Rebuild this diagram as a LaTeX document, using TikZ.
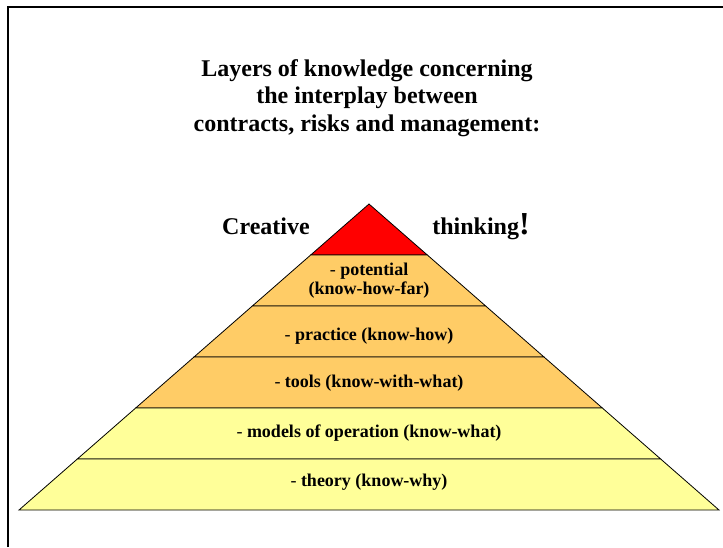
\documentclass[tikz,border=0pt]{standalone}
\usepackage{fontspec}
\setmainfont{Liberation Serif}
\usetikzlibrary{calc}
\definecolor{tipred}{HTML}{FF0000}
\definecolor{bandorange}{HTML}{FFCC66}
\definecolor{bandyellow}{HTML}{FFFF99}
\tikzset{
    x=0.75pt, y=-0.75pt, % one unit is one pixel of the slide
    band/.style={draw=black, line width=0.6pt}, % outline of every layer
    bandtext/.style={font=\fontsize{13.5}{14.25}\selectfont\bfseries, align=center, inner sep=0pt}, % text inside the layers
    headline/.style={font=\fontsize{18}{20.6}\selectfont\bfseries, align=center, inner sep=0pt}, % title and side words
    }

\begin{document}
\begin{tikzpicture}
    \useasboundingbox[fill=white] (0,0) rectangle (723,547);

    % frame of the slide, only top and left edge visible
    \coordinate (frameBL) at (8,547);
    \coordinate (frameTL) at (8,7);
    \coordinate (frameTR) at (723,7);
    \draw[line width=1.5pt] (frameBL) -- (frameTL) -- (frameTR);

    % pyramid corners
    \coordinate (apex) at (369,204);
    \coordinate (baseL) at (19,510);
    \coordinate (baseR) at (719,510);

    \coordinate (L1) at ($(apex)!1/6!(baseL)$);
    \coordinate (R1) at ($(apex)!1/6!(baseR)$);
    \coordinate (L2) at ($(apex)!2/6!(baseL)$);
    \coordinate (R2) at ($(apex)!2/6!(baseR)$);
    \coordinate (L3) at ($(apex)!3/6!(baseL)$);
    \coordinate (R3) at ($(apex)!3/6!(baseR)$);
    \coordinate (L4) at ($(apex)!4/6!(baseL)$);
    \coordinate (R4) at ($(apex)!4/6!(baseR)$);
    \coordinate (L5) at ($(apex)!5/6!(baseL)$);
    \coordinate (R5) at ($(apex)!5/6!(baseR)$);

    \draw[band, fill=tipred] (apex) -- (L1) -- (R1) -- cycle;
    \draw[band, fill=bandorange] (L1) -- (L2) -- (R2) -- (R1) -- cycle;
    \draw[band, fill=bandorange] (L2) -- (L3) -- (R3) -- (R2) -- cycle;
    \draw[band, fill=bandorange] (L3) -- (L4) -- (R4) -- (R3) -- cycle;
    \draw[band, fill=bandyellow] (L4) -- (L5) -- (R5) -- (R4) -- cycle;
    \draw[band, fill=bandyellow] (L5) -- (baseL) -- (baseR) -- (R5) -- cycle;

    % base of a node with several lines sits on its last line
    \node[headline, anchor=base] at (367,131) (TITLE) {Layers of knowledge concerning\\the interplay between\\contracts, risks and management:};

    \node[headline, anchor=base] at (266,234) (CREATIVE) {Creative};
    \node[headline, anchor=base] at (481,234) (THINKING) {thinking{\fontsize{24}{24}\selectfont !}};

    \node[bandtext, anchor=base] at (369,294) (POTENTIAL) {{\mdseries -} potential\\(know-how-far)};
    \node[bandtext, anchor=base] at (369,340) (PRACTICE) {{\mdseries -} practice (know-how)};
    \node[bandtext, anchor=base] at (369,387) (TOOLS) {{\mdseries -} tools (know-with-what)};
    \node[bandtext, anchor=base] at (369,437) (MODELS) {{\mdseries -} models of operation (know-what)};
    \node[bandtext, anchor=base] at (369,486) (THEORY) {{\mdseries -} theory (know-why)};

\end{tikzpicture}
\end{document}
